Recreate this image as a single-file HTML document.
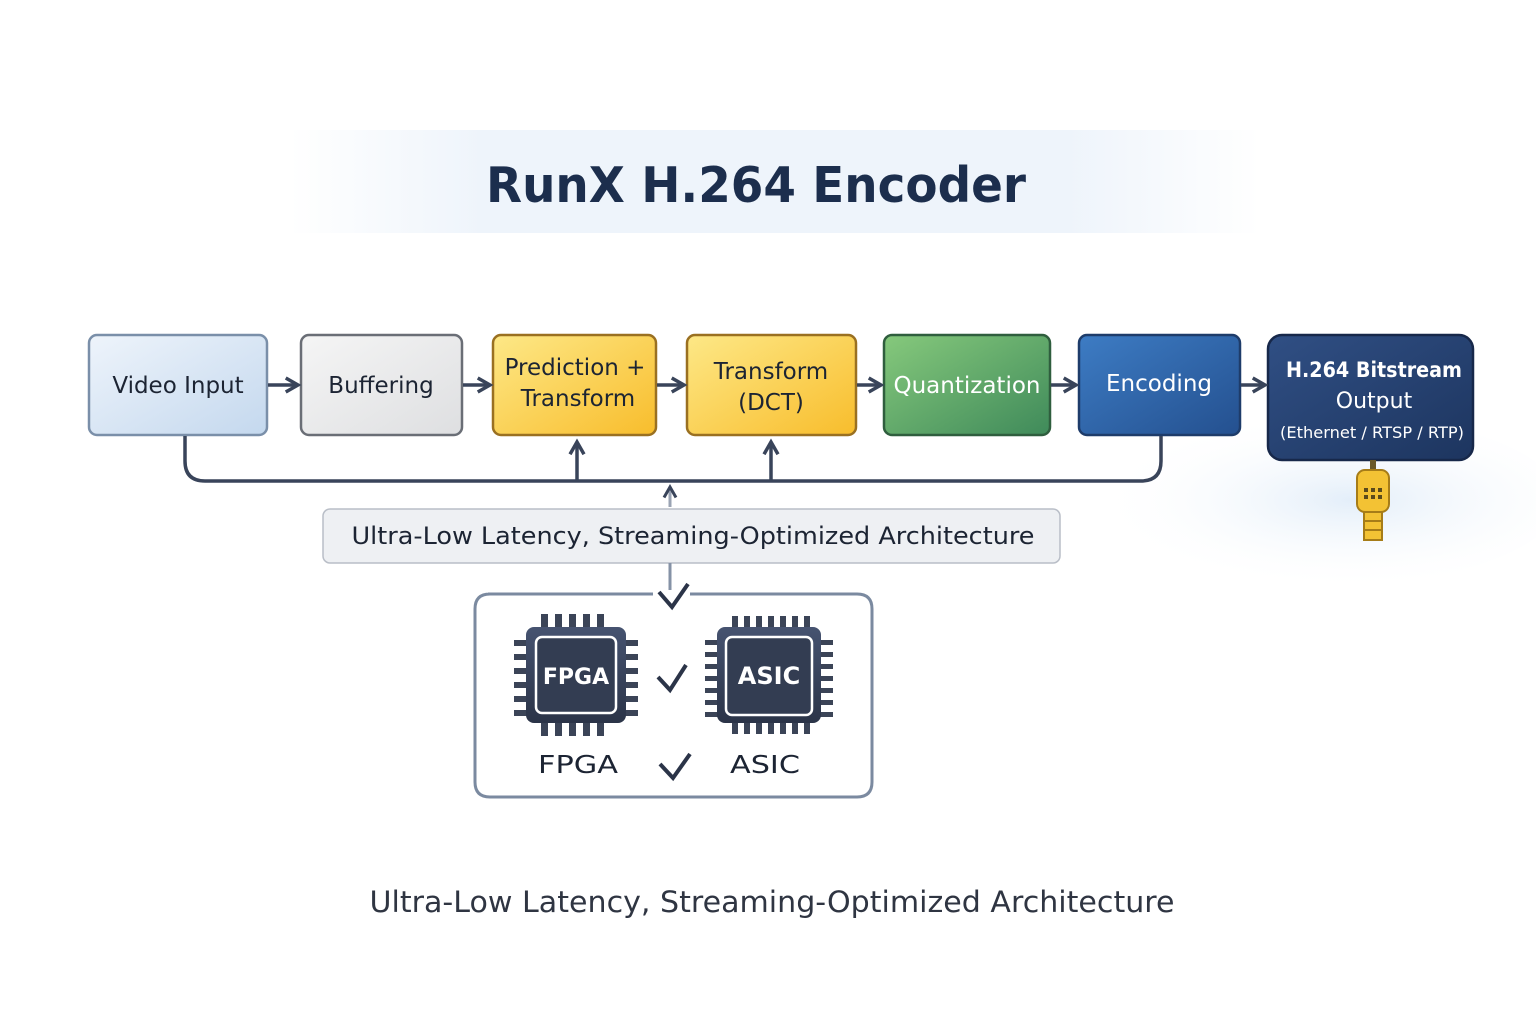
<!DOCTYPE html>
<html><head><meta charset="utf-8"><style>
html,body{margin:0;padding:0;background:#fff}
svg{display:block}
text{font-family:"DejaVu Sans","Liberation Sans",sans-serif}
</style></head><body>
<svg width="1536" height="1024" viewBox="0 0 1536 1024" xmlns="http://www.w3.org/2000/svg">
<defs>
<linearGradient id="band" x1="0" x2="1"><stop offset="0" stop-color="#fff"/><stop offset="0.2" stop-color="#eef4fb"/><stop offset="0.8" stop-color="#eef4fb"/><stop offset="1" stop-color="#fff"/></linearGradient>
<linearGradient id="gB" x1="0" y1="0" x2="1" y2="1"><stop offset="0" stop-color="#eef4fb"/><stop offset="1" stop-color="#c4d8ee"/></linearGradient>
<linearGradient id="gG" x1="0" y1="0" x2="1" y2="1"><stop offset="0" stop-color="#f5f5f5"/><stop offset="1" stop-color="#dedfe1"/></linearGradient>
<linearGradient id="gY" x1="0" y1="0" x2="1" y2="1"><stop offset="0" stop-color="#fde887"/><stop offset="1" stop-color="#f8bd2c"/></linearGradient>
<linearGradient id="gQ" x1="0" y1="0" x2="1" y2="1"><stop offset="0" stop-color="#86c97c"/><stop offset="1" stop-color="#3f8a5a"/></linearGradient>
<linearGradient id="gE" x1="0" y1="0" x2="1" y2="1"><stop offset="0" stop-color="#3d7cc4"/><stop offset="1" stop-color="#24508f"/></linearGradient>
<linearGradient id="gO" x1="0" y1="0" x2="1" y2="1"><stop offset="0" stop-color="#304f84"/><stop offset="1" stop-color="#1d355f"/></linearGradient>
<linearGradient id="gC" x1="0" y1="0" x2="0" y2="1"><stop offset="0" stop-color="#465370"/><stop offset="1" stop-color="#2b3448"/></linearGradient>
<radialGradient id="glow" cx="0.6" cy="0.5" r="0.5"><stop offset="0" stop-color="#e3eef9"/><stop offset="1" stop-color="#fff" stop-opacity="0"/></radialGradient>
<marker id="ah" viewBox="0 0 10 10" refX="8" refY="5" markerWidth="5" markerHeight="5" orient="auto"><path d="M1,1 L8,5 L1,9" fill="none" stroke="#39445a" stroke-width="2"/></marker>
</defs>
<rect x="290" y="130" width="970" height="103" fill="url(#band)"/>
<ellipse cx="1300" cy="500" rx="260" ry="90" fill="url(#glow)"/>
<text x="756" y="202" font-size="49" font-weight="bold" fill="#1c2e4d" text-anchor="middle" textLength="540" lengthAdjust="spacingAndGlyphs">RunX H.264 Encoder</text>

<g stroke-width="2.5">
<rect x="89" y="335" width="178" height="100" rx="8" fill="url(#gB)" stroke="#7a8fa9"/>
<rect x="301" y="335" width="161" height="100" rx="8" fill="url(#gG)" stroke="#6a6e76"/>
<rect x="493" y="335" width="163" height="100" rx="8" fill="url(#gY)" stroke="#9a7021"/>
<rect x="687" y="335" width="169" height="100" rx="8" fill="url(#gY)" stroke="#9a7021"/>
<rect x="884" y="335" width="166" height="100" rx="8" fill="url(#gQ)" stroke="#2f5e3e"/>
<rect x="1079" y="335" width="161" height="100" rx="8" fill="url(#gE)" stroke="#1e3c6a"/>
<rect x="1268" y="335" width="205" height="125" rx="14" fill="url(#gO)" stroke="#17284a"/>
</g>
<g font-size="23" text-anchor="middle">
<text x="178" y="393" fill="#1c2433">Video Input</text>
<text x="381" y="393" fill="#1c2433">Buffering</text>
<text x="575" y="375" fill="#1c2433">Prediction +</text>
<text x="578" y="406" fill="#1c2433">Transform</text>
<text x="771" y="379" fill="#1c2433">Transform</text>
<text x="771" y="410" fill="#1c2433">(DCT)</text>
<text x="967" y="393" fill="#fff">Quantization</text>
<text x="1159" y="391" fill="#fff">Encoding</text>
<text x="1374" y="377" fill="#fff" font-size="21" font-weight="bold" textLength="176" lengthAdjust="spacingAndGlyphs">H.264 Bitstream</text>
<text x="1374" y="408" fill="#fff" font-size="22">Output</text>
<text x="1372" y="438" fill="#fff" font-size="16" textLength="184" lengthAdjust="spacingAndGlyphs">(Ethernet / RTSP / RTP)</text>
</g>
<g stroke="#39445a" stroke-width="3.5" fill="none" marker-end="url(#ah)">
<line x1="268" y1="385" x2="298" y2="385"/>
<line x1="463" y1="385" x2="490" y2="385"/>
<line x1="657" y1="385" x2="684" y2="385"/>
<line x1="857" y1="385" x2="881" y2="385"/>
<line x1="1051" y1="385" x2="1076" y2="385"/>
<line x1="1241" y1="385" x2="1265" y2="385"/>
<line x1="577" y1="481" x2="577" y2="442"/>
<line x1="771" y1="481" x2="771" y2="442"/>
</g>
<path d="M185,436 V461 Q185,481 205,481 H1141 Q1161,481 1161,461 V436" fill="none" stroke="#39445a" stroke-width="3.5"/>
<line x1="670" y1="507" x2="670" y2="487" stroke="#9aa3b3" stroke-width="3" marker-end="url(#ah)"/>
<rect x="323" y="509" width="737" height="54" rx="7" fill="#eef0f3" stroke="#b9bec7" stroke-width="1.5"/>
<text x="693" y="544" font-size="24" fill="#1c2433" text-anchor="middle" textLength="683" lengthAdjust="spacingAndGlyphs">Ultra-Low Latency, Streaming-Optimized Architecture</text>
<line x1="670" y1="563" x2="670" y2="590" stroke="#8592a6" stroke-width="3"/>
<path d="M488,594 H653 M690,594 H857 Q872,594 872,609 V782 Q872,797 857,797 H490 Q475,797 475,782 V609 Q475,594 490,594" fill="none" stroke="#7b8aa0" stroke-width="3"/>
<path d="M659,592 L672,607 L688,584" fill="none" stroke="#2b3448" stroke-width="4"/>

<g>
<g fill="#3b4457">
<rect x="541" y="614" width="7" height="16"/><rect x="555" y="614" width="7" height="16"/><rect x="569" y="614" width="7" height="16"/><rect x="583" y="614" width="7" height="16"/><rect x="597" y="614" width="7" height="16"/>
<rect x="541" y="720" width="7" height="16"/><rect x="555" y="720" width="7" height="16"/><rect x="569" y="720" width="7" height="16"/><rect x="583" y="720" width="7" height="16"/><rect x="597" y="720" width="7" height="16"/>
<rect x="514" y="640" width="16" height="6"/><rect x="514" y="654" width="16" height="6"/><rect x="514" y="668" width="16" height="6"/><rect x="514" y="682" width="16" height="6"/><rect x="514" y="696" width="16" height="6"/><rect x="514" y="710" width="16" height="6"/>
<rect x="622" y="640" width="16" height="6"/><rect x="622" y="654" width="16" height="6"/><rect x="622" y="668" width="16" height="6"/><rect x="622" y="682" width="16" height="6"/><rect x="622" y="696" width="16" height="6"/><rect x="622" y="710" width="16" height="6"/>
</g>
<rect x="526" y="627" width="100" height="96" rx="8" fill="url(#gC)"/>
<rect x="536" y="637" width="80" height="76" rx="6" fill="#333d52" stroke="#fff" stroke-width="2.5"/>
<text x="576" y="684" font-size="22" font-weight="bold" fill="#fff" text-anchor="middle">FPGA</text>
</g>
<g>
<g fill="#3b4457">
<rect x="732" y="616" width="6" height="14"/><rect x="744" y="616" width="6" height="14"/><rect x="756" y="616" width="6" height="14"/><rect x="768" y="616" width="6" height="14"/><rect x="780" y="616" width="6" height="14"/><rect x="792" y="616" width="6" height="14"/><rect x="804" y="616" width="6" height="14"/>
<rect x="732" y="720" width="6" height="14"/><rect x="744" y="720" width="6" height="14"/><rect x="756" y="720" width="6" height="14"/><rect x="768" y="720" width="6" height="14"/><rect x="780" y="720" width="6" height="14"/><rect x="792" y="720" width="6" height="14"/><rect x="804" y="720" width="6" height="14"/>
<rect x="705" y="640" width="16" height="5"/><rect x="705" y="652" width="16" height="5"/><rect x="705" y="664" width="16" height="5"/><rect x="705" y="676" width="16" height="5"/><rect x="705" y="688" width="16" height="5"/><rect x="705" y="700" width="16" height="5"/><rect x="705" y="712" width="16" height="5"/>
<rect x="817" y="640" width="16" height="5"/><rect x="817" y="652" width="16" height="5"/><rect x="817" y="664" width="16" height="5"/><rect x="817" y="676" width="16" height="5"/><rect x="817" y="688" width="16" height="5"/><rect x="817" y="700" width="16" height="5"/><rect x="817" y="712" width="16" height="5"/>
</g>
<rect x="717" y="627" width="104" height="96" rx="8" fill="url(#gC)"/>
<rect x="726" y="637" width="86" height="78" rx="6" fill="#333d52" stroke="#fff" stroke-width="2.5"/>
<text x="769" y="684" font-size="24" font-weight="bold" fill="#fff" text-anchor="middle">ASIC</text>
</g>
<path d="M658,677 L670,690 L686,665" fill="none" stroke="#2b3448" stroke-width="4"/>
<path d="M660,764 L673,778 L690,754" fill="none" stroke="#2b3448" stroke-width="4"/>
<text x="578" y="773" font-size="25" fill="#1c2433" text-anchor="middle" textLength="80" lengthAdjust="spacingAndGlyphs">FPGA</text>
<text x="765" y="773" font-size="25" fill="#1c2433" text-anchor="middle" textLength="70" lengthAdjust="spacingAndGlyphs">ASIC</text>

<rect x="1370" y="460" width="6" height="12" fill="#6b5a2a"/>
<rect x="1357" y="470" width="32" height="42" rx="8" fill="#f3c234" stroke="#a67c18" stroke-width="2"/>
<g fill="#5a4a1c"><rect x="1364" y="488" width="4" height="4"/><rect x="1371" y="488" width="4" height="4"/><rect x="1378" y="488" width="4" height="4"/><rect x="1364" y="495" width="4" height="4"/><rect x="1371" y="495" width="4" height="4"/><rect x="1378" y="495" width="4" height="4"/></g>
<rect x="1364" y="512" width="18" height="28" fill="#f3c234" stroke="#a67c18" stroke-width="2"/>
<line x1="1364" y1="521" x2="1382" y2="521" stroke="#a67c18" stroke-width="2"/>
<line x1="1364" y1="530" x2="1382" y2="530" stroke="#a67c18" stroke-width="2"/>

<text x="772" y="912" font-size="29" fill="#2f3542" text-anchor="middle" textLength="805" lengthAdjust="spacingAndGlyphs">Ultra-Low Latency, Streaming-Optimized Architecture</text>
</svg>
</body></html>
